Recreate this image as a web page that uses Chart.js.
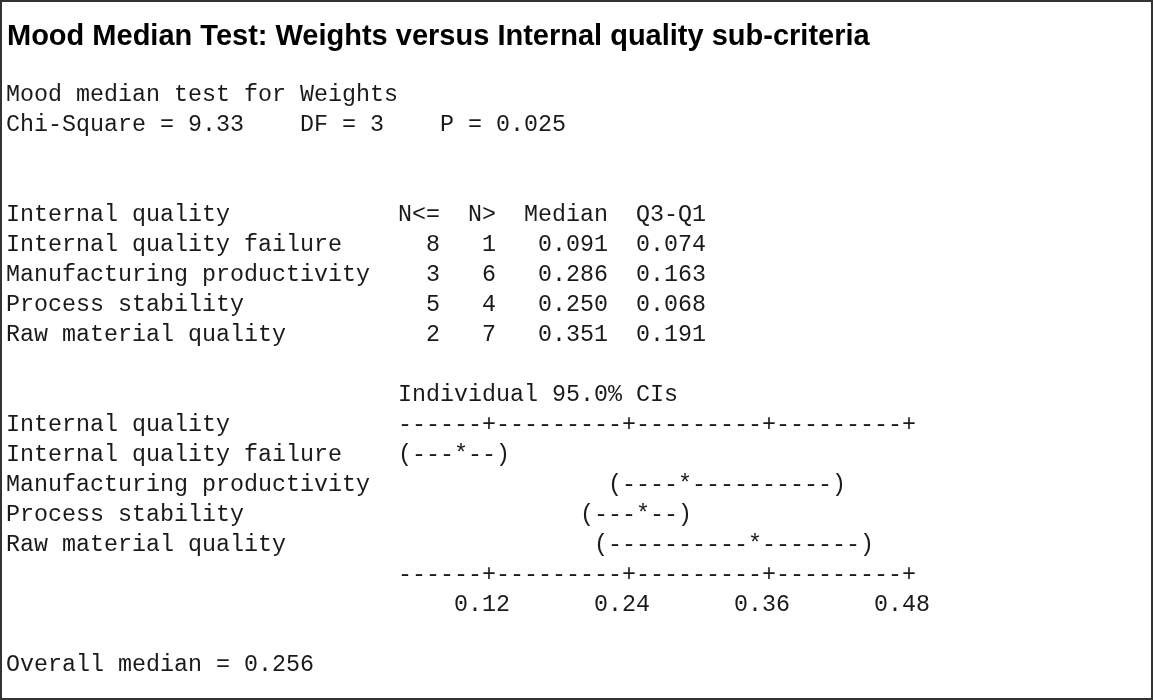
<!DOCTYPE html>
<html>
<head>
<meta charset="utf-8">
<script src="https://cdn.jsdelivr.net/npm/chart.js@4.4.1/dist/chart.umd.min.js"></script>
<style>
  html, body { margin: 0; padding: 0; background: #fff; }
  #wrap { width: 1153px; height: 700px; position: relative; }
</style>
</head>
<body>
<div id="wrap"><canvas id="moodChart"></canvas></div>
<script>
// values read from the Minitab session output
const groups = ['Internal quality failure', 'Manufacturing productivity', 'Process stability', 'Raw material quality'];
const nLessEq = [8, 3, 5, 2];
const nGreater = [1, 6, 4, 7];
const medians = [0.091, 0.286, 0.250, 0.351];
const q3q1 = [0.074, 0.163, 0.068, 0.191];
const ciLower = [0.050, 0.230, 0.205, 0.215];
const ciUpper = [0.130, 0.420, 0.290, 0.445];
const tickValues = [0.12, 0.24, 0.36, 0.48];
const chiSquare = 9.33;
const dof = 3;
const pValue = 0.025;
const overallMedian = 0.256;

// text grid layout
const MONO = '23.33px "Liberation Mono", "Courier New", monospace';
const TITLE_FONT = 'bold 29px "Liberation Sans", Arial, sans-serif';
const TEXT_COLOR = '#1a1a1a';
const W = 1153, H = 700;
const LEFT = 6;          // left edge of text column 0
const TOP = 100.5;       // baseline of first text line
const LH = 30;           // line height
const PLOT_COL = 28;     // column where the CI plot starts
const AXIS_START = 0.048, STEP = 0.012, AXIS_LEN = 37;
const COLS = 81;

const probe = document.createElement('canvas').getContext('2d');
probe.font = MONO;
const cw = probe.measureText('M').width;

const xMin = AXIS_START - (PLOT_COL + 0.5) * STEP;
const xMax = xMin + COLS * STEP;

const textPlugin = {
  id: 'sessionText',
  afterDraw(chart) {
    const ctx = chart.ctx;
    const xs = chart.scales.x, ys = chart.scales.y;
    const colX = c => xs.getPixelForValue(xMin + c * STEP);
    const lineY = l => ys.getPixelForValue(l);
    const colOf = v => Math.round((v - xMin) / STEP - 0.5);
    const put = (txt, col, line) => ctx.fillText(txt, colX(col), lineY(line));

    ctx.save();
    // frame
    ctx.strokeStyle = '#333';
    ctx.lineWidth = 2;
    ctx.strokeRect(1, 1, W - 2, H - 2);

    // title
    ctx.fillStyle = '#000';
    ctx.textBaseline = 'alphabetic';
    ctx.textAlign = 'left';
    ctx.font = TITLE_FONT;
    ctx.fillText('Mood Median Test: Weights versus Internal quality sub-criteria', 7, 45);

    ctx.font = MONO;
    ctx.fillStyle = TEXT_COLOR;
    put('Mood median test for Weights', 0, 0);
    put('Chi-Square = ' + chiSquare.toFixed(2) + '    DF = ' + dof + '    P = ' + pValue.toFixed(3), 0, 1);

    // table
    put('Internal quality'.padEnd(PLOT_COL) + 'N<=  N>  Median  Q3-Q1', 0, 4);
    groups.forEach((g, i) => {
      const row = g.padEnd(PLOT_COL) + String(nLessEq[i]).padStart(3) + String(nGreater[i]).padStart(4) +
        medians[i].toFixed(3).padStart(8) + q3q1[i].toFixed(3).padStart(7);
      put(row, 0, 5 + i);
    });

    // character CI plot
    put('Individual 95.0% CIs', PLOT_COL, 10);
    put('Internal quality', 0, 11);
    const tickCols = tickValues.map(colOf);
    let axis = '';
    for (let c = PLOT_COL; c < PLOT_COL + AXIS_LEN; c++) axis += tickCols.includes(c) ? '+' : '-';
    put(axis, PLOT_COL, 11);
    put(axis, PLOT_COL, 16);
    tickValues.forEach((t, i) => put(t.toFixed(2), tickCols[i] - 2, 17));

    chart.data.datasets.forEach((ds, i) => {
      const line = 12 + i;
      put(groups[i], 0, line);
      const lo = colOf(ds.data[0].x), md = colOf(ds.data[1].x), hi = colOf(ds.data[2].x);
      let s = '';
      for (let c = lo; c <= hi; c++) s += c === lo ? '(' : c === hi ? ')' : c === md ? '*' : '-';
      put(s, lo, line);
    });

    put('Overall median = ' + overallMedian.toFixed(3), 0, 19);
    ctx.restore();
  }
};

const chartW = COLS * cw;
new Chart(document.getElementById('moodChart'), {
  type: 'scatter',
  data: {
    datasets: groups.map((g, i) => ({
      label: g,
      data: [{ x: ciLower[i], y: 12 + i }, { x: medians[i], y: 12 + i }, { x: ciUpper[i], y: 12 + i }],
      pointRadius: 0,
      showLine: false
    }))
  },
  options: {
    responsive: true,
    maintainAspectRatio: false,
    animation: false,
    layout: { padding: { left: LEFT, right: W - LEFT - chartW, top: 0, bottom: 0 } },
    plugins: { legend: { display: false }, tooltip: { enabled: false } },
    scales: {
      x: { type: 'linear', display: false, min: xMin, max: xMax },
      y: { type: 'linear', display: false, reverse: true, min: -TOP / LH, max: (H - TOP) / LH }
    }
  },
  plugins: [textPlugin]
});
</script>
</body>
</html>
